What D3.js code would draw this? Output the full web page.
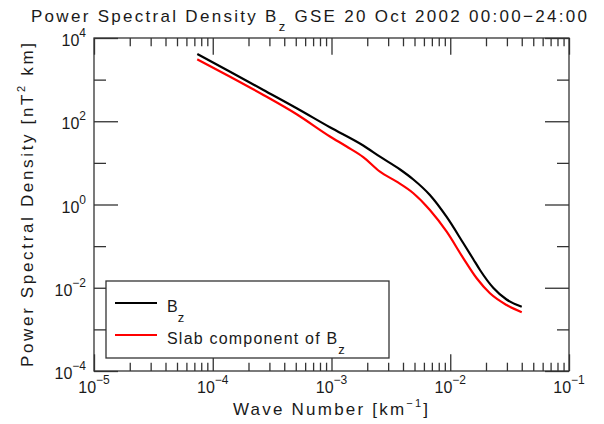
<!DOCTYPE html>
<html>
<head>
<meta charset="utf-8">
<script src="https://cdn.jsdelivr.net/npm/d3@7"></script>
<style>
  body { margin: 0; background: #fff; }
  text { font-family: "Liberation Sans", Arial, sans-serif; fill: #1a1a1a; }
</style>
</head>
<body>
<svg id="chart"></svg>
<script>
// wave number [km^-1] and PSD [nT^2 km]
const kBz = [7.41e-5, 1.40e-4, 2.67e-4, 5.09e-4, 9.70e-4, 1.85e-3, 2.56e-3, 3.78e-3,
  4.89e-3, 6.74e-3, 9.33e-3, 1.29e-2, 1.56e-2, 1.78e-2, 2.31e-2, 2.98e-2, 4.00e-2];
const psdBz = [4130, 1550, 564, 205, 71.6, 26.1, 14.1, 6.93,
  3.99, 1.69, 0.501, 0.117, 0.0491, 0.0267, 0.00986, 0.00522, 0.00351];

const kSlab = [7.41e-5, 1.40e-4, 2.67e-4, 5.09e-4, 9.70e-4, 1.34e-3, 1.85e-3, 2.56e-3,
  3.54e-3, 4.89e-3, 6.74e-3, 9.33e-3, 1.29e-2, 1.67e-2, 2.16e-2, 2.98e-2, 4.00e-2];
const psdSlab = [3080, 1175, 428, 147, 43.0, 24.7, 13.8, 6.14,
  3.53, 1.86, 0.738, 0.222, 0.0509, 0.0169, 0.00736, 0.00385, 0.00257];

const xMajorExp = [-5, -4, -3, -2, -1];
const yMajorExp = [4, 2, 0, -2, -4];
const yMinorExp = [3, 1, -1, -3];

const width = 604;
const height = 424;

let svg = d3.select("#chart")
    .attr("width", width)
    .attr("height", height);

let x = d3.scaleLog().domain([1e-5, 1e-1]).range([94, 569]);
let y = d3.scaleLog().domain([1e-4, 1e4]).range([371, 38]);

let xMajor = xMajorExp.map(function (e) { return Math.pow(10, e); });
let xMinor = [];
for (let e = -5; e < -1; e++) {
    for (let m = 2; m <= 9; m++) xMinor.push(m * Math.pow(10, e));
}
let yMajor = yMajorExp.map(function (e) { return Math.pow(10, e); });
let yMinor = yMinorExp.map(function (e) { return Math.pow(10, e); });

function drawAxis(axis, tx, ty) {
    let g = svg.append("g")
        .attr("transform", "translate(" + tx + "," + ty + ")")
        .call(axis.tickFormat("").tickSizeOuter(0));
    g.select(".domain").remove();
    g.selectAll("line").attr("stroke", "#333").attr("stroke-width", 1.3);
}

// tick marks on all four sides, pointing inward
drawAxis(d3.axisBottom(x).tickValues(xMajor).tickSizeInner(-16.7), 0, 371);
drawAxis(d3.axisBottom(x).tickValues(xMinor).tickSizeInner(-8.3), 0, 371);
drawAxis(d3.axisTop(x).tickValues(xMajor).tickSizeInner(-16.7), 0, 38);
drawAxis(d3.axisTop(x).tickValues(xMinor).tickSizeInner(-8.3), 0, 38);
drawAxis(d3.axisLeft(y).tickValues(yMajor).tickSizeInner(-24), 94, 0);
drawAxis(d3.axisLeft(y).tickValues(yMinor).tickSizeInner(-12), 94, 0);
drawAxis(d3.axisRight(y).tickValues(yMajor).tickSizeInner(-24), 569, 0);
drawAxis(d3.axisRight(y).tickValues(yMinor).tickSizeInner(-12), 569, 0);

svg.append("rect")
    .attr("x", 94).attr("y", 38)
    .attr("width", 475).attr("height", 333)
    .attr("fill", "none")
    .attr("stroke", "#333")
    .attr("stroke-width", 1.3);

function expLabel(sel, e) {
    sel.append("tspan").text("10");
    sel.append("tspan")
        .attr("dy", -9)
        .attr("font-size", 12)
        .text(String(e).replace("-", "\u2212"));
}

// x tick labels
xMajorExp.forEach(function (e) {
    let t = svg.append("text")
        .attr("x", x(Math.pow(10, e)))
        .attr("y", 393)
        .attr("text-anchor", "middle")
        .attr("font-size", 16);
    expLabel(t, e);
});

// y tick labels
yMajorExp.forEach(function (e) {
    let t = svg.append("text")
        .attr("x", 86)
        .attr("y", y(Math.pow(10, e)) + 8)
        .attr("text-anchor", "end")
        .attr("font-size", 16);
    expLabel(t, e);
});

// curves
let line = d3.line()
    .x(function (d) { return x(d[0]); })
    .y(function (d) { return y(d[1]); })
    .curve(d3.curveMonotoneX);

svg.append("path")
    .datum(d3.zip(kSlab, psdSlab))
    .attr("d", line)
    .attr("fill", "none")
    .attr("stroke", "#ff0000")
    .attr("stroke-width", 2.2);

svg.append("path")
    .datum(d3.zip(kBz, psdBz))
    .attr("d", line)
    .attr("fill", "none")
    .attr("stroke", "#000")
    .attr("stroke-width", 2.2);

// legend
svg.append("rect")
    .attr("x", 106).attr("y", 281)
    .attr("width", 283).attr("height", 77)
    .attr("fill", "#fff")
    .attr("stroke", "#333")
    .attr("stroke-width", 1.3);

let legendItems = [
    {label: "B", color: "#000", y: 303, spaced: false},
    {label: "Slab component of B", color: "#ff0000", y: 335, spaced: true}
];
legendItems.forEach(function (d) {
    svg.append("line")
        .attr("x1", 115).attr("x2", 157)
        .attr("y1", d.y).attr("y2", d.y)
        .attr("stroke", d.color)
        .attr("stroke-width", 2.2);
    let t = svg.append("text")
        .attr("x", 167)
        .attr("y", d.y + 9)
        .attr("font-size", 16)
        .attr("letter-spacing", d.spaced ? 1.2 : 0);
    t.append("tspan").text(d.label);
    t.append("tspan").attr("dy", 10).attr("font-size", 13).text("z");
});

// title
let title = svg.append("text")
    .attr("x", 31)
    .attr("y", 22)
    .attr("font-size", 17)
    .attr("textLength", 556)
    .attr("lengthAdjust", "spacing");
title.append("tspan").text("Power Spectral Density B");
title.append("tspan").attr("dy", 9).attr("font-size", 13).text("z");
title.append("tspan").attr("dy", -9).text(" GSE 20 Oct 2002 00:00\u221224:00");

// axis titles
let xt = svg.append("text")
    .attr("x", 233)
    .attr("y", 415)
    .attr("font-size", 17)
    .attr("textLength", 195)
    .attr("lengthAdjust", "spacing");
xt.append("tspan").text("Wave Number [km");
xt.append("tspan").attr("dy", -8).attr("font-size", 11).text("\u22121");
xt.append("tspan").attr("dy", 8).text("]");

let yt = svg.append("text")
    .attr("transform", "translate(33,367) rotate(-90)")
    .attr("font-size", 17)
    .attr("textLength", 324)
    .attr("lengthAdjust", "spacing");
yt.append("tspan").text("Power Spectral Density [nT");
yt.append("tspan").attr("dy", -8).attr("font-size", 11).text("2");
yt.append("tspan").attr("dy", 8).text(" km]");
</script>
</body>
</html>
